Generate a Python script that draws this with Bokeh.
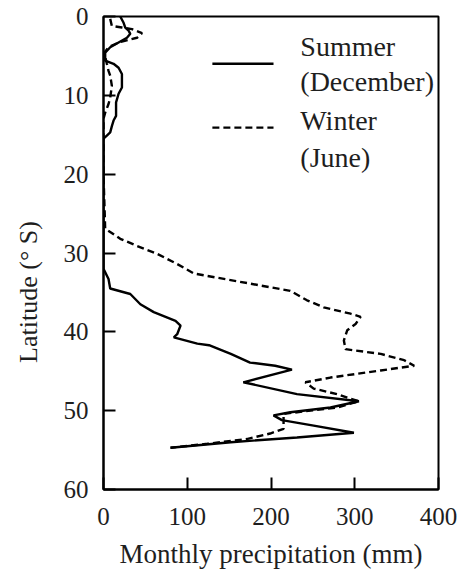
from bokeh.plotting import figure
from bokeh.models import Range1d, FixedTicker, Label
from bokeh.embed import file_html
from bokeh.resources import INLINE

# Summer (December) precipitation profile: latitude (deg S) vs monthly precipitation (mm)
summer_lat = [0.0, 0.8, 1.4, 1.8, 2.2, 2.7, 3.3, 3.9, 4.6, 5.6, 6.0, 6.5, 7.3, 9.0, 9.8,
              10.9, 12.6, 13.2, 13.9, 14.7, 15.1, 15.5, 20.0, 25.0, 32.0, 33.3, 34.5,
              35.2, 36.5, 37.5, 38.6, 39.2, 40.3, 40.7, 41.5, 41.7, 42.8, 43.9, 44.3,
              44.8, 46.4, 47.9, 48.8, 49.6, 50.2, 50.6, 51.2, 51.9, 52.8, 53.4, 54.0, 54.7]
summer_mm = [20, 24, 26, 30, 32, 28, 18, 8, 2, 2, 12, 18, 22, 22, 18,
             15, 15, 12, 10, 8, 4, 0, 0, 0, 0, 6, 8,
             32, 44, 60, 86, 92, 88, 84, 112, 126, 152, 175, 205,
             225, 167, 231, 305, 271, 223, 203, 213, 251, 299, 231, 152, 80]

# Winter (June) precipitation profile
winter_lat = [0.3, 1.2, 1.4, 1.6, 2.1, 2.7, 3.3, 3.9, 4.6, 6.0, 6.9, 7.5, 8.8, 10.3,
              11.1, 12.2, 13.0, 20.0, 26.9, 28.2, 29.1, 30.1, 31.4, 32.6, 33.5, 34.8,
              36.0, 36.9, 37.7, 38.1, 39.0, 39.8, 41.1, 42.2, 42.8, 43.6, 44.3, 44.9,
              45.8, 46.4, 47.2, 47.9, 48.5, 48.8, 49.6, 50.4, 51.2, 52.3, 52.9, 53.6,
              54.2, 54.7]
winter_mm = [8, 10, 22, 34, 46, 40, 18, 6, 1, 4, 6, 8, 10, 8,
             6, 2, 0, 0, 2, 20, 40, 64, 88, 108, 155, 223,
             243, 263, 295, 307, 301, 291, 287, 289, 331, 359, 371, 331,
             271, 241, 251, 279, 295, 305, 279, 215, 215, 215, 199, 171,
             124, 80]

x_ticks = [0, 100, 200, 300, 400]
y_ticks = [0, 10, 20, 30, 40, 50, 60]

SERIF = "'Liberation Serif', 'Times New Roman', serif"
INK = "#1e1e1e"

p = figure(width=459, height=571, output_backend="svg", toolbar_location=None,
           x_range=Range1d(0, 400), y_range=Range1d(60, 0),
           min_border_left=103, min_border_right=21, min_border_top=16, min_border_bottom=82)
p.background_fill_color = "white"
p.border_fill_color = "white"
p.outline_line_color = "black"
p.outline_line_width = 2
p.grid.visible = False

for ax, ticks in ((p.xaxis[0], x_ticks), (p.yaxis[0], y_ticks)):
    ax.ticker = FixedTicker(ticks=ticks)
    ax.major_tick_in = 12
    ax.major_tick_out = 0
    ax.minor_tick_line_color = None
    ax.major_tick_line_width = 2
    ax.axis_line_width = 2
    ax.axis_line_color = "black"
    ax.major_tick_line_color = "black"
    ax.major_label_text_font = SERIF
    ax.major_label_text_font_size = "25px"
    ax.major_label_text_color = INK
    ax.axis_label_text_font = SERIF
    ax.axis_label_text_font_style = "normal"
    ax.axis_label_text_color = INK

p.xaxis.axis_label = "Monthly precipitation (mm)"
p.xaxis.axis_label_text_font_size = "27px"
p.xaxis.major_label_standoff = 18
p.xaxis.axis_label_standoff = 11

# y title sits below the frame centre in the reference: trailing no-break spaces shift it down
p.yaxis.axis_label = "Latitude (\u00b0 S)" + "\u00a0" * 12
p.yaxis.axis_label_text_font_size = "26px"
p.yaxis.major_label_standoff = 15
p.yaxis.axis_label_standoff = 18

p.line(summer_mm, summer_lat, line_color="black", line_width=2.4)
p.line(winter_mm, winter_lat, line_color="black", line_width=2.4, line_dash="7 4")

# legend (drawn by hand for two-line labels)
p.line([130, 203], [6.0, 6.0], line_color="black", line_width=2.4)
p.line([130, 203], [14.1, 14.1], line_color="black", line_width=2.4, line_dash="7 4")
for txt, yy in (("Summer", 3.75), ("(December)", 8.3), ("Winter", 13.25), ("(June)", 17.85)):
    p.add_layout(Label(x=235, y=yy, text=txt, text_font=SERIF, text_font_size="28px",
                       text_baseline="alphabetic", text_align="left", text_color=INK))

open("out.html", "w").write(file_html(p, INLINE))
